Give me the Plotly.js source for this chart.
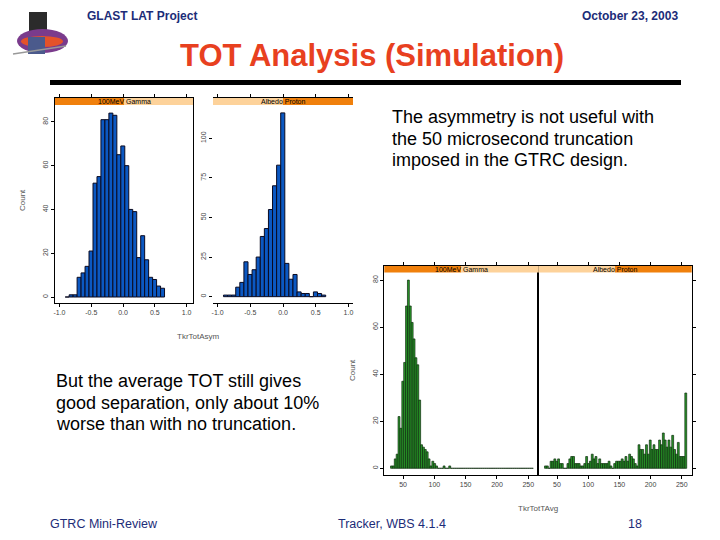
<!DOCTYPE html>
<html>
<head>
<meta charset="utf-8">
<script src="https://cdn.plot.ly/plotly-3.0.1.min.js"></script>
<style>
  body { margin: 0; background: #fff; }
  #slide { width: 720px; height: 540px; }
</style>
</head>
<body>
<div id="slide"></div>
<script>
// --- data ---
// top chart: TkrTotAsym histograms, 25 bins
const asymBinStart = -0.91;
const asymBinWidth = 0.0625;
const gammaAsym  = [0, 1, 1, 9, 11, 14, 21, 52, 55, 81, 81, 84, 83, 65, 69, 60, 40, 39, 18, 28, 17, 9, 8, 5, 4];
const protonAsym = [1, 1, 1, 6, 9, 22, 14, 17, 25, 38, 43, 55, 70, 83, 116, 21, 11, 14, 3, 2, 2, 0, 3, 2, 1];
const asymTicks = [-1, -0.5, 0, 0.5, 1];
const asymTickText = ['-1.0', '-0.5', '0.0', '0.5', '1.0'];

// bottom chart: TkrTotTAvg histograms, 76 bins of width 3 from 30
const totBinStart = 30;
const totBinWidth = 3;
const gammaTot = [1, 1, 4, 6, 22, 17, 37, 45, 69, 80, 69, 62, 55, 47, 44, 29, 10, 9, 8, 7,
                  4, 1, 3, 2, 1, 0, 0, 0, 1, 0, 0, 1, 0, 0, 0, 0, 0, 0, 0, 0,
                  0, 0, 0, 0, 0, 0, 0, 0, 0, 0, 0, 0, 0, 0, 0, 0, 0, 0, 0, 0,
                  0, 0, 0, 0, 0, 0, 0, 0, 0, 0, 0, 0, 0, 0, 0, 0];
const protonTot = [1, 1, 0, 3, 3, 4, 3, 4, 2, 2, 0, 0, 2, 4, 5, 5, 2, 2, 2, 1,
                   1, 2, 5, 2, 3, 6, 4, 5, 2, 4, 2, 2, 2, 2, 3, 1, 0, 2, 3, 3,
                   3, 4, 3, 5, 3, 6, 5, 4, 2, 1, 10, 8, 8, 6, 10, 6, 12, 8, 10, 8,
                   8, 12, 10, 15, 12, 9, 12, 9, 14, 8, 6, 11, 5, 5, 5, 32];
const totTicks = [50, 100, 150, 200, 250];

const panelNames = ['100MeV Gamma', 'Albedo Proton'];

// --- helpers ---
const W = 720, H = 540;
const px = x => x / W;          // pixel -> paper x
const py = y => 1 - y / H;      // pixel -> paper y
function centers(start, width, n) {
  return Array.from({ length: n }, (_, i) => start + width * (i + 0.5));
}

const blue = { color: '#0b58c2', line: { color: '#0a0a20', width: 1 } };
const green = { color: '#2a9a2a', line: { color: '#0b2a0b', width: 0.7 } };

const traces = [
  { type: 'bar', x: centers(asymBinStart, asymBinWidth, gammaAsym.length), y: gammaAsym,
    width: asymBinWidth, marker: blue, xaxis: 'x', yaxis: 'y', hoverinfo: 'x+y' },
  { type: 'bar', x: centers(asymBinStart, asymBinWidth, protonAsym.length), y: protonAsym,
    width: asymBinWidth, marker: blue, xaxis: 'x2', yaxis: 'y2', hoverinfo: 'x+y' },
  { type: 'bar', x: centers(totBinStart, totBinWidth, gammaTot.length), y: gammaTot,
    width: totBinWidth, marker: green, xaxis: 'x3', yaxis: 'y3', hoverinfo: 'x+y' },
  { type: 'bar', x: centers(totBinStart, totBinWidth, protonTot.length), y: protonTot,
    width: totBinWidth, marker: green, xaxis: 'x4', yaxis: 'y4', hoverinfo: 'x+y' }
];

const tickFont = { family: 'Liberation Sans, Arial, sans-serif', size: 7, color: '#444' };
const axisBase = {
  showgrid: false, zeroline: false, ticks: 'outside', ticklen: 3, tickwidth: 1,
  tickcolor: '#000', tickfont: tickFont, showline: true, linecolor: '#000', linewidth: 1,
  fixedrange: true
};

const topDom = [py(303), py(98)];
const botDom = [py(475), py(266)];

// strips: orange marks which level the panel shows
const orange = '#f0800c', peach = '#fdd29a';
function strip(x0, x1, y0, y1, level) {
  const mid = (x0 + x1) / 2;
  const segs = level === 0 ? [[x0, mid, orange], [mid, x1, peach]] : [[x0, mid, peach], [mid, x1, orange]];
  return segs.map(s => ({
    type: 'rect', xref: 'paper', yref: 'paper', x0: px(s[0]), x1: px(s[1]), y0: py(y1), y1: py(y0),
    fillcolor: s[2], line: { width: 0 }, layer: 'above'
  }));
}

const shapes = [
  ...strip(55, 193, 98, 105, 0),
  ...strip(213, 353, 98, 105, 1),
  ...strip(384.3, 538.3, 266, 272.5, 0),
  ...strip(538.3, 691.7, 266, 272.5, 1),
  // rule under the title
  { type: 'rect', xref: 'paper', yref: 'paper', x0: px(50), x1: px(681), y0: py(85), y1: py(80),
    fillcolor: '#000', line: { width: 0 } },
  // rough GLAST logo
  { type: 'rect', xref: 'paper', yref: 'paper', x0: px(29), x1: px(47), y0: py(31), y1: py(12),
    fillcolor: '#2b2b2b', line: { width: 0 } },
  { type: 'circle', xref: 'paper', yref: 'paper', x0: px(17), x1: px(68), y0: py(53), y1: py(29),
    fillcolor: '#7a3b8c', line: { width: 0 } },
  { type: 'circle', xref: 'paper', yref: 'paper', x0: px(21), x1: px(63), y0: py(47), y1: py(36),
    fillcolor: '#e4522a', line: { width: 0 } },
  { type: 'rect', xref: 'paper', yref: 'paper', x0: px(28), x1: px(45), y0: py(54), y1: py(37),
    fillcolor: '#4b5a8c', line: { width: 0 } },
  { type: 'line', xref: 'paper', yref: 'paper', x0: px(13), x1: px(66), y0: py(54), y1: py(46),
    line: { color: '#999', width: 1.5 } }
];

const sans = 'Liberation Sans, Arial, sans-serif';
const narrow = 'Liberation Sans Narrow, Arial Narrow, Liberation Sans, sans-serif';
const navy = '#1c2c78';
function note(text, x, y, opts) {
  return Object.assign({
    text: text, xref: 'paper', yref: 'paper', x: px(x), y: py(y), showarrow: false,
    xanchor: 'left', yanchor: 'middle', font: { family: sans, size: 18, color: '#000' }
  }, opts || {});
}

const annotations = [
  note('<b>GLAST LAT Project</b>', 85, 16, { font: { family: narrow, size: 12, color: navy } }),
  note('<b>October 23, 2003</b>', 680, 16, { xanchor: 'right', font: { family: narrow, size: 12, color: navy } }),
  note('<b>TOT Analysis (Simulation)</b>', 372, 55, { xanchor: 'center', font: { family: sans, size: 31, color: '#e8401f' } }),

  note('The asymmetry is not useful with', 390, 117),
  note('the 50 microsecond truncation', 390, 139),
  note('imposed in the GTRC design.', 390, 160),

  note('But the average TOT still gives', 54, 381),
  note('good separation, only about 10%', 54, 403),
  note('worse than with no truncation.', 54, 424),

  note('GTRC Mini-Review', 48, 524, { font: { family: sans, size: 12.5, color: navy } }),
  note('Tracker, WBS 4.1.4', 392, 524, { xanchor: 'center', font: { family: sans, size: 12.5, color: navy } }),
  note('18', 635, 524, { xanchor: 'center', font: { family: sans, size: 12.5, color: navy } }),

  // strip labels
  note(panelNames[0], 124, 101.5, { xanchor: 'center', font: { family: sans, size: 7, color: '#000' } }),
  note(panelNames[1], 283, 101.5, { xanchor: 'center', font: { family: sans, size: 7, color: '#000' } }),
  note(panelNames[0], 461.3, 269.3, { xanchor: 'center', font: { family: sans, size: 7, color: '#000' } }),
  note(panelNames[1], 615, 269.3, { xanchor: 'center', font: { family: sans, size: 7, color: '#000' } }),

  // axis titles
  note('TkrTotAsym', 198, 336, { xanchor: 'center', font: { family: sans, size: 8, color: '#555' } }),
  note('Count', 22, 200, { xanchor: 'center', textangle: -90, font: { family: sans, size: 8, color: '#555' } }),
  note('TkrTotTAvg', 538, 508, { xanchor: 'center', font: { family: sans, size: 8, color: '#555' } }),
  note('Count', 352, 370, { xanchor: 'center', textangle: -90, font: { family: sans, size: 8, color: '#555' } })
];

const layout = {
  width: W, height: H,
  margin: { l: 0, r: 0, t: 0, b: 0 },
  paper_bgcolor: '#fff', plot_bgcolor: 'rgba(0,0,0,0)',
  showlegend: false,
  bargap: 0,
  xaxis: Object.assign({}, axisBase, { domain: [px(55), px(193)], range: [-1.07, 1.10], anchor: 'y',
    tickvals: asymTicks, ticktext: asymTickText, mirror: 'ticks' }),
  yaxis: Object.assign({}, axisBase, { domain: topDom, range: [-2.74, 90.9], anchor: 'x',
    tickvals: [0, 20, 40, 60, 80], tickangle: -90, mirror: true }),
  xaxis2: Object.assign({}, axisBase, { domain: [px(213), px(353)], range: [-1.07, 1.07], anchor: 'y2',
    tickvals: asymTicks, ticktext: asymTickText, mirror: 'ticks' }),
  yaxis2: Object.assign({}, axisBase, { domain: topDom, range: [-4.0, 125.4], anchor: 'x2',
    tickvals: [0, 25, 50, 75, 100], tickangle: -90, showline: false }),
  xaxis3: Object.assign({}, axisBase, { domain: [px(384.3), px(538.3)], range: [20, 266], anchor: 'y3',
    tickvals: totTicks, mirror: 'ticks' }),
  yaxis3: Object.assign({}, axisBase, { domain: botDom, range: [-2.85, 86], anchor: 'x3',
    tickvals: [0, 20, 40, 60, 80], tickangle: -90, mirror: true }),
  xaxis4: Object.assign({}, axisBase, { domain: [px(538.3), px(691.7)], range: [20, 266], anchor: 'y4',
    tickvals: totTicks, mirror: 'ticks' }),
  yaxis4: Object.assign({}, axisBase, { domain: botDom, range: [-2.85, 86], anchor: 'x4',
    tickvals: [0, 20, 40, 60, 80], side: 'right', showticklabels: false, mirror: true }),
  shapes: shapes,
  annotations: annotations
};

Plotly.newPlot('slide', traces, layout, { displayModeBar: false, staticPlot: true });
</script>
</body>
</html>
